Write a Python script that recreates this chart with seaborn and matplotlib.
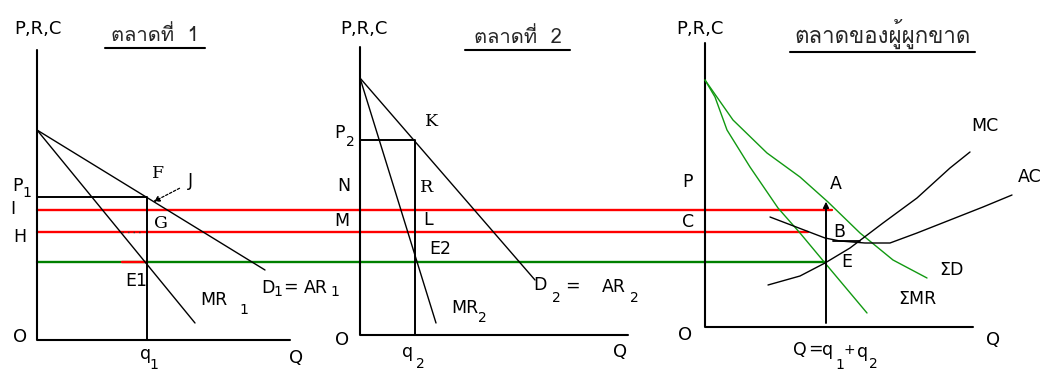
import matplotlib
matplotlib.use("Agg")
import matplotlib.pyplot as plt
import seaborn as sns
from matplotlib import font_manager
from fontTools.ttLib import TTFont

sns.set_theme(style="white")


def find_family(codepoints):
    """Return the name of an installed font family covering all codepoints."""
    for entry in font_manager.fontManager.ttflist:
        try:
            num = 0 if entry.fname.lower().endswith((".ttc", ".otc")) else -1
            tt = TTFont(entry.fname, fontNumber=num, lazy=True)
            cmap = tt.getBestCmap() or {}
            if all(cp in cmap for cp in codepoints):
                return entry.name
        except Exception:
            continue
    return None


thai_name = find_family([0x0E01, 0x0E02, 0x0E07, 0x0E14, 0x0E25, 0x0E32, 0x0E35, 0x0E48])
families = ["DejaVu Sans"] + ([thai_name] if thai_name else []) + ["Noto Sans"]
plt.rcParams["font.family"] = families

W, H = 1045, 378  # drawing canvas in pixel units (y grows downward)

# ---------------- Market 1 ----------------
axis1_x = [37, 37, 290]
axis1_y = [50, 340, 340]
d1_x = [37, 265]
d1_y = [130, 270]
mr1_x = [37, 195]
mr1_y = [130, 323]
box1_x = [37, 147, 147]
box1_y = [197, 197, 340]

# ---------------- Market 2 ----------------
axis2_x = [360, 360, 628]
axis2_y = [47, 335, 335]
d2_x = [360, 535]
d2_y = [78, 280]
mr2_x = [360, 436]
mr2_y = [78, 323]
box2_x = [360, 415, 415]
box2_y = [140, 140, 335]

# ---------------- Monopolist (combined) ----------------
axis3_x = [705, 705, 973]
axis3_y = [43, 327, 327]
sd_x = [705, 733, 767, 800, 828, 860, 893, 927]
sd_y = [80, 120, 153, 177, 202, 233, 260, 278]
smr_x = [705, 715, 727, 750, 778, 800, 825, 867]
smr_y = [80, 97, 130, 167, 208, 233, 263, 313]
mc_x = [768, 800, 825, 850, 883, 917, 950, 970]
mc_y = [285, 276, 263, 248, 223, 198, 168, 152]
ac_x = [770, 825, 840, 865, 890, 917, 950, 983, 1012]
ac_y = [217, 238, 241, 243, 243, 233, 220, 207, 195]
q_line_x = [826, 826]
q_line_y = [205, 323]

# Horizontal levels carried across the three markets
level_y = [210, 232, 262]
level_end = [832, 808, 826]
level_color = ["#ff0000", "#ff0000", "#008000"]

fig = plt.figure(figsize=(W / 100, H / 100), dpi=100)
ax = fig.add_axes([0, 0, 1, 1])
ax.set_xlim(0, W)
ax.set_ylim(H, 0)
ax.axis("off")


def line(xs, ys, color="black", lw=1.0, **kw):
    sns.lineplot(x=xs, y=ys, sort=False, estimator=None, color=color,
                 linewidth=lw, ax=ax, **kw)


# level lines
for y, xe, c in zip(level_y, level_end, level_color):
    line([37, xe], [y, y], color=c, lw=1.7)
line([122, 147], [262, 262], color="#ff0000", lw=1.7)
line([122, 142], [232, 232], color="#333333", lw=1.0, linestyle=(0, (1, 3)))

# axes
for xs, ys in [(axis1_x, axis1_y), (axis2_x, axis2_y), (axis3_x, axis3_y)]:
    line(xs, ys, lw=1.5)

# market 1
line(d1_x, d1_y)
line(mr1_x, mr1_y)
line(box1_x, box1_y, lw=1.4)

# market 2
line(d2_x, d2_y)
line(mr2_x, mr2_y)
line(box2_x, box2_y, lw=1.4)

# combined market
line(sd_x, sd_y, color="#119911")
line(smr_x, smr_y, color="#119911")
line(mc_x, mc_y)
line(ac_x, ac_y)
line([833, 860], [241, 241], lw=1.3)
line(q_line_x, q_line_y, lw=1.4)

# arrows
ax.annotate("", xy=(151, 203), xytext=(182, 187),
            arrowprops=dict(arrowstyle="-|>", color="black", lw=0.9,
                            linestyle=(0, (2, 1.5)), mutation_scale=9))
ax.annotate("", xy=(826, 199), xytext=(826, 212),
            arrowprops=dict(arrowstyle="-|>", color="black", lw=1.0,
                            mutation_scale=9))

FS = 12.5
SUB = 10


def lab(x, y, s, size=FS, ha="center", **kw):
    ax.text(x, y, s, ha=ha, va="center", fontsize=size, color="black", **kw)


# titles (Thai)
title_families = ([thai_name] if thai_name else []) + ["DejaVu Sans"]
for x0, x1, ty, s, fs in [(105, 205, 48, "ตลาดที่  1", 14.5),
                          (465, 570, 50, "ตลาดที่  2", 14.5),
                          (790, 975, 52, "ตลาดของผู้ผูกขาด", 16)]:
    ax.text((x0 + x1) / 2, ty - 3, s, ha="center", va="bottom",
            fontsize=fs, family=title_families)
    line([x0, x1], [ty, ty], lw=1.5)

# axis captions
for x in (38, 364, 700):
    lab(x, 29, "P,R,C", size=13)

# market 1 labels
lab(18, 186, "P")
lab(27, 193, "1", size=SUB)
lab(13, 209, "I")
lab(20, 237, "H")
lab(20, 337, "O", size=13)
lab(146, 354, "q")
lab(154, 365, "1", size=SUB)
lab(296, 358, "Q", size=13)
lab(158, 173, "F", family="DejaVu Serif")
lab(190, 181, "J")
lab(161, 223, "G", family="DejaVu Serif")
lab(136, 281, "E1")
lab(214, 300, "MR")
lab(244, 310, "1", size=SUB)
lab(268, 288, "D")
lab(278, 292, "1", size=SUB)
lab(290, 287, "=")
lab(316, 288, "AR")
lab(335, 292, "1", size=SUB)

# market 2 labels
lab(340, 133, "P")
lab(350, 142, "2", size=SUB)
lab(432, 122, "K", family="DejaVu Serif")
lab(344, 186, "N")
lab(342, 221, "M")
lab(427, 187, "R", family="DejaVu Serif")
lab(428, 220, "L")
lab(440, 249, "E2")
lab(465, 308, "MR")
lab(482, 318, "2", size=SUB)
lab(540, 285, "D")
lab(556, 298, "2", size=SUB)
lab(572, 286, "=")
lab(614, 287, "AR")
lab(634, 298, "2", size=SUB)
lab(342, 340, "O", size=13)
lab(408, 352, "q")
lab(420, 364, "2", size=SUB)
lab(620, 352, "Q", size=13)

# combined market labels
lab(985, 126, "MC")
lab(1030, 177, "AC")
lab(688, 182, "P")
lab(836, 184, "A")
lab(688, 222, "C")
lab(839, 232, "B")
lab(847, 262, "E")
lab(951, 270, "ΣD")
lab(917, 299, "ΣMR")
lab(685, 335, "O", size=13)
lab(993, 340, "Q", size=13)
lab(800, 350, "Q")
lab(815, 349, "=")
lab(828, 350, "q")
lab(840, 365, "1", size=SUB)
lab(849, 350, "+", size=10)
lab(863, 352, "q")
lab(873, 364, "2", size=SUB)

fig.savefig("out.png", dpi=100, facecolor="white")
